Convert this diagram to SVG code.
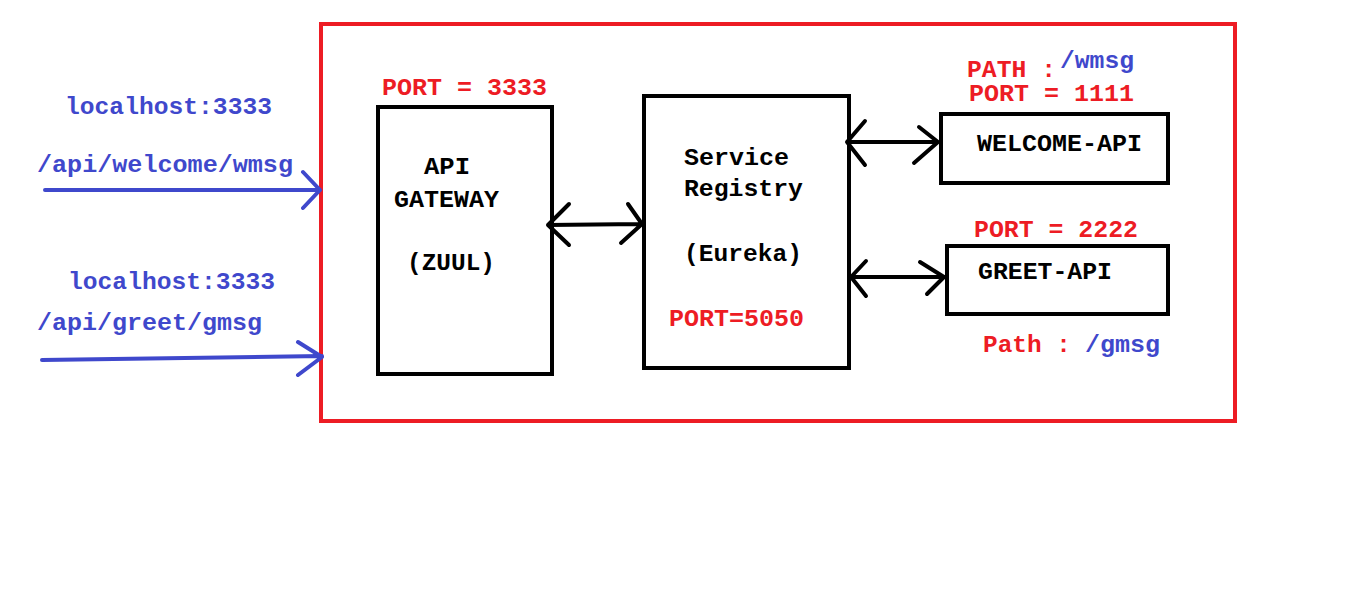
<svg xmlns="http://www.w3.org/2000/svg" width="1360" height="593" viewBox="0 0 1360 593">
<style>
text{font-family:"Liberation Mono","DejaVu Sans Mono",monospace;font-weight:bold;font-size:24.5px}
.r{fill:#ED1C24}.b{fill:#3F48CC}.k{fill:#000}
.box{fill:none;stroke:#000;stroke-width:4}
.ln{fill:none;stroke-width:4;stroke-linecap:round;stroke-linejoin:round}
</style>
<rect width="1360" height="593" fill="#fff"/>
<g id="frame"><rect x="321" y="24" width="914" height="397" fill="none" stroke="#ED1C24" stroke-width="4"/></g>
<g id="client-welcome">
<text class="b" x="65" y="114" textLength="207" lengthAdjust="spacingAndGlyphs">localhost:3333</text>
<text class="b" x="37" y="172" textLength="256" lengthAdjust="spacingAndGlyphs">/api/welcome/wmsg</text>
</g>
<g id="client-greet">
<text class="b" x="68" y="289" textLength="207" lengthAdjust="spacingAndGlyphs">localhost:3333</text>
<text class="b" x="37" y="330" textLength="225" lengthAdjust="spacingAndGlyphs">/api/greet/gmsg</text>
</g>
<g id="gateway">
<rect class="box" x="378" y="107" width="174" height="267"/>
<text class="r" x="382" y="95" textLength="165" lengthAdjust="spacingAndGlyphs">PORT = 3333</text>
<text class="k" x="424" y="174" textLength="46" lengthAdjust="spacingAndGlyphs">API</text>
<text class="k" x="394" y="207" textLength="105" lengthAdjust="spacingAndGlyphs">GATEWAY</text>
<text class="k" x="407" y="270" textLength="88" lengthAdjust="spacingAndGlyphs">(ZUUL)</text>
</g>
<g id="registry">
<rect class="box" x="644" y="96" width="205" height="272"/>
<text class="k" x="684" y="165" textLength="105" lengthAdjust="spacingAndGlyphs">Service</text>
<text class="k" x="684" y="196" textLength="119" lengthAdjust="spacingAndGlyphs">Registry</text>
<text class="k" x="684" y="261" textLength="118" lengthAdjust="spacingAndGlyphs">(Eureka)</text>
<text class="r" x="669" y="326" textLength="135" lengthAdjust="spacingAndGlyphs">PORT=5050</text>
</g>
<g id="welcome-api">
<rect class="box" x="941" y="114" width="227" height="69"/>
<text class="r" x="967" y="77" textLength="89" lengthAdjust="spacingAndGlyphs">PATH :</text>
<text class="b" x="1060" y="68" textLength="74" lengthAdjust="spacingAndGlyphs">/wmsg</text>
<text class="r" x="969" y="101" textLength="165" lengthAdjust="spacingAndGlyphs">PORT = 1111</text>
<text class="k" x="977" y="151" textLength="165" lengthAdjust="spacingAndGlyphs">WELCOME-API</text>
</g>
<g id="greet-api">
<rect class="box" x="947" y="246" width="221" height="68"/>
<text class="r" x="974" y="237" textLength="164" lengthAdjust="spacingAndGlyphs">PORT = 2222</text>
<text class="k" x="978" y="279" textLength="134" lengthAdjust="spacingAndGlyphs">GREET-API</text>
<text class="r" x="983" y="352" textLength="88" lengthAdjust="spacingAndGlyphs">Path :</text>
<text class="b" x="1085" y="352" textLength="75" lengthAdjust="spacingAndGlyphs">/gmsg</text>
</g>
<g id="connectors">
<path class="ln" stroke="#3F48CC" d="M45 190 L320 190 M303 172 L320 190 L303 208"/>
<path class="ln" stroke="#3F48CC" d="M42 360 L322 356 M298 342 L322 357 L298 375"/>
<path class="ln" stroke="#000" d="M548 225 L642 224 M569 204 L548 225 L569 245 M628 204 L642 224 L621 243"/>
<path class="ln" stroke="#000" d="M847 142 L938 142 M865 121 L847 142 L865 165 M919 127 L938 142 L914 163"/>
<path class="ln" stroke="#000" d="M851 277 L944 277 M866 261 L851 277 L866 296 M920 262 L944 277 L927 294"/>
</g>
</svg>
